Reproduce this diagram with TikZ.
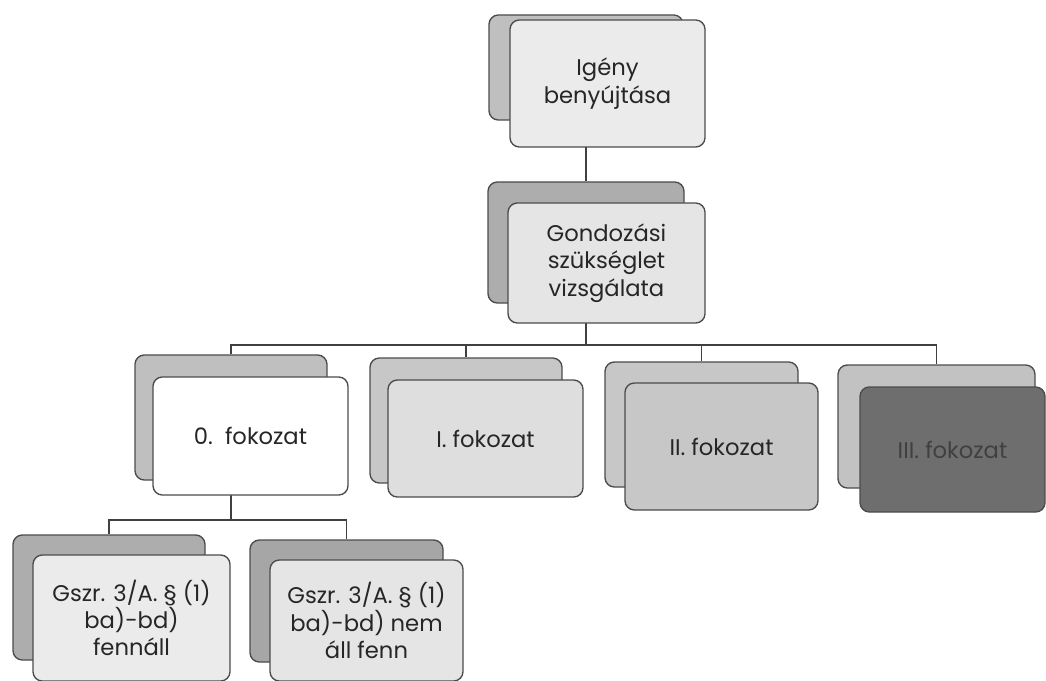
\documentclass[tikz,border=0pt]{standalone}
\usepackage{fontspec}
\setmainfont{Poppins}
\usetikzlibrary{backgrounds}

\begin{document}
\begin{tikzpicture}[x=0.75pt, y=-0.75pt,
  sz/.style 2 args={minimum width=#1*0.75pt, minimum height=#2*0.75pt},
  backbox/.style={draw=black!70, line width=1pt, rounded corners=7pt, inner sep=0pt},
  frontbox/.style={draw=black!70, line width=1pt, rounded corners=7pt, inner sep=2pt,
    align=center, text=black!85, font=\fontsize{17}{20.5}\selectfont},
  link/.style={draw=black!75, line width=1pt}]
  \useasboundingbox (0,0) rectangle (1046,681);
  % top
  \node[backbox, sz={194}{105}, fill=black!25] (igb) at (586,67.5) {};
  \node[frontbox, sz={195}{127}, fill=black!8] (igf) at (607.5,83.5) {Igény\\benyújtása};
  \node[backbox, sz={196}{121}, fill=black!32] (gob) at (586,242.5) {};
  \node[frontbox, sz={197}{120}, fill=black!10] (gof) at (606.5,263) {Gondozási\\szükséglet\\vizsgálata};
  % fokozatok
  \node[backbox, sz={192}{125}, fill=black!25] (f0b) at (231,417.5) {};
  \node[frontbox, sz={195}{118}, fill=white] (f0f) at (250.5,436) {0.~~fokozat};
  \node[backbox, sz={192}{125}, fill=black!22] (f1b) at (466,420.5) {};
  \node[frontbox, sz={195}{117}, fill=black!13] (f1f) at (485.5,438.5) {I. fokozat};
  \node[backbox, sz={193}{125}, fill=black!22] (f2b) at (701.5,424.5) {};
  \node[frontbox, sz={193}{127}, fill=black!22] (f2f) at (721.5,446.5) {II. fokozat};
  \node[backbox, sz={197}{123}, fill=black!24] (f3b) at (936.5,426.5) {};
  \node[frontbox, sz={185}{125}, fill=black!57, text=black!75] (f3f) at (952.5,449.5) {III. fokozat};
  % Gszr.
  \node[backbox, sz={192}{125}, fill=black!32] (ab) at (109,597.5) {};
  \node[frontbox, sz={197}{126}, fill=black!8] (af) at (131.5,618) {Gszr. 3/A. § (1)\\ba)-bd)\\fennáll};
  \node[backbox, sz={193}{122}, fill=black!35] (bb) at (346.5,601) {};
  \node[frontbox, sz={193}{121}, fill=black!10] (bf) at (366.5,620.5) {Gszr. 3/A. § (1)\\ba)-bd) nem\\áll fenn};
  % connectors
  \begin{scope}[on background layer]
    \coordinate (bar3) at (586,345);
    \coordinate (bar4) at (231,520);
    \draw[link] (igb.south) -- (gob.north);
    \draw[link] (gob.south) -- (bar3);
    \draw[link] (f0b.north) |- (bar3) -| (f3b.north);
    \draw[link] (f1b.north) -- (f1b.north |- bar3);
    \draw[link] (f2b.north) -- (f2b.north |- bar3);
    \draw[link] (f0b.south) -- (bar4);
    \draw[link] (ab.north) |- (bar4) -| (bb.north);
  \end{scope}
\end{tikzpicture}
\end{document}
